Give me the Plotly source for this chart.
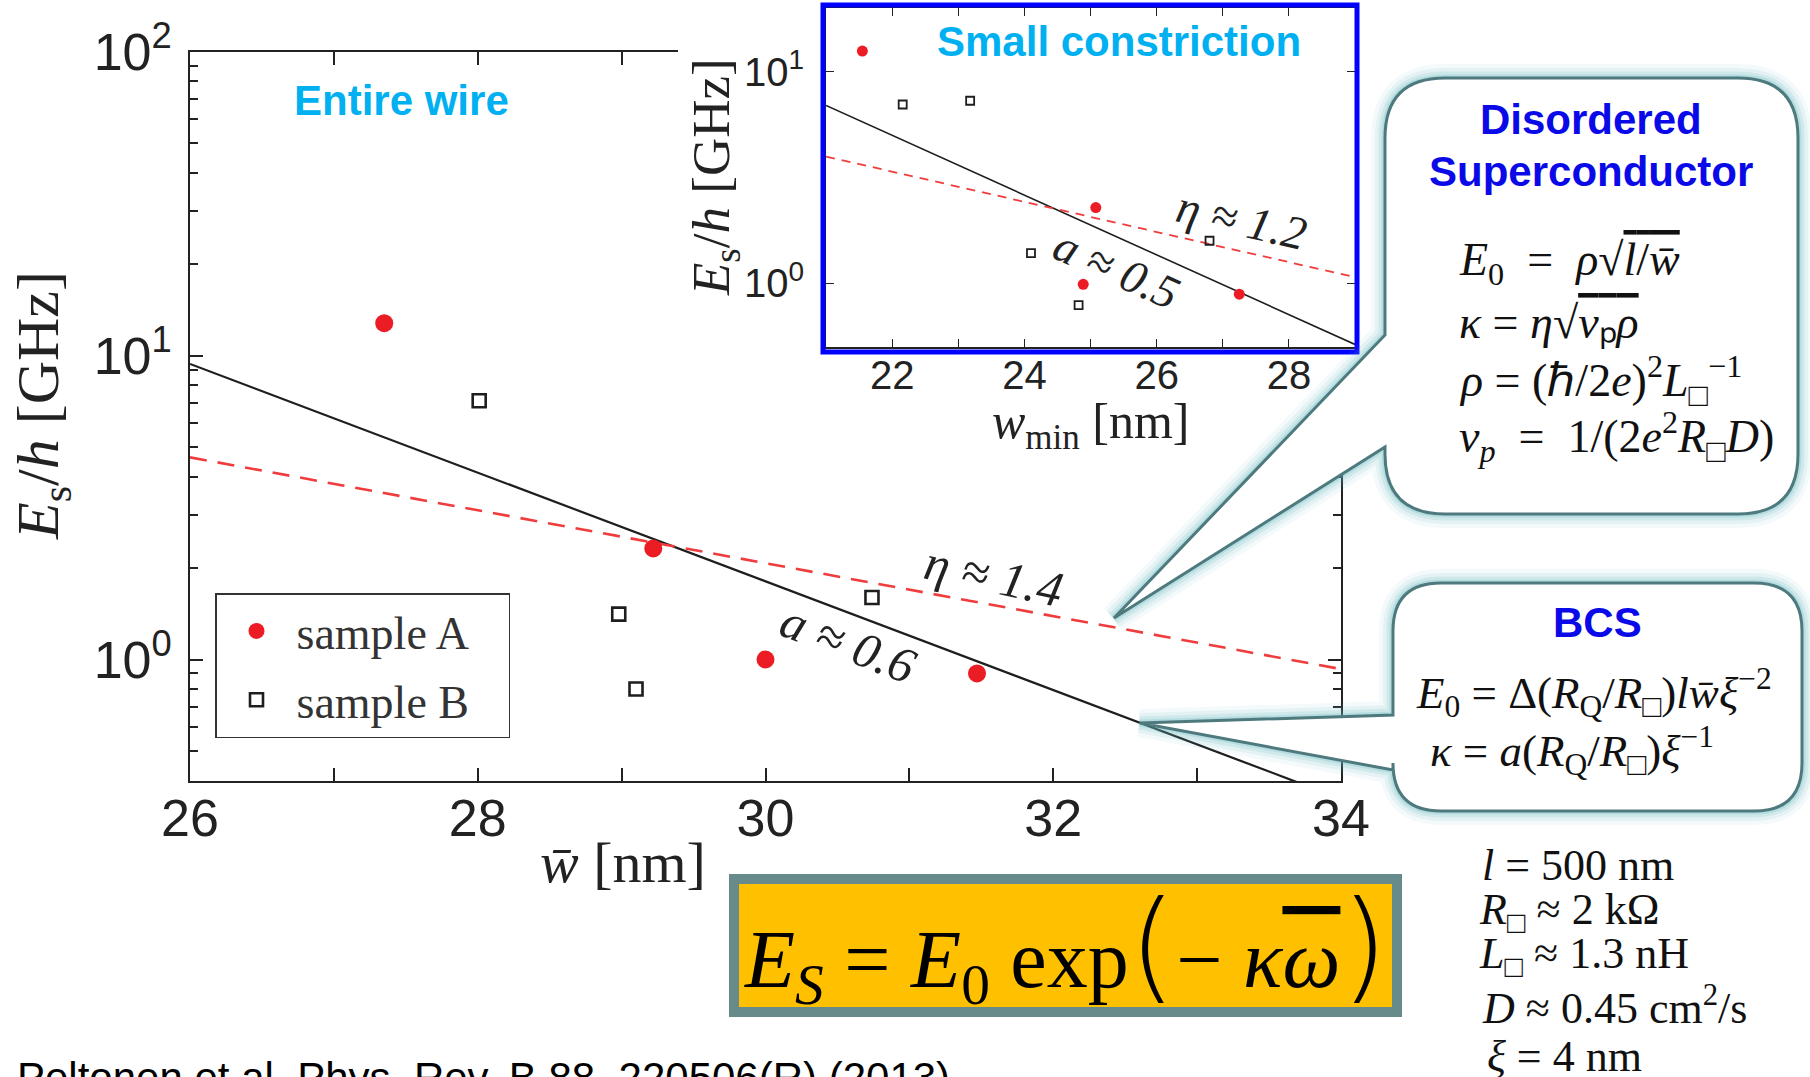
import plotly.graph_objects as go

W, H = 1810, 1077


def px(x):
    return x / W


def py(y):
    return 1 - y / H


# ---- entire wire: mean width vs phase-slip energy ----
wire_w_A = [27.35, 29.22, 30.00, 31.47]
wire_E_A = [12.8, 2.32, 1.00, 0.90]
wire_w_B = [28.01, 28.98, 29.10, 29.56, 30.74]
wire_E_B = [7.11, 1.41, 0.80, 7.36, 1.60]

fit_w_wire = [26, 34]
fit_bcs_wire = [9.40, 0.348]      # a ~ 0.6
fit_dis_wire = [4.63, 0.93]       # eta ~ 1.4

# ---- small constriction: minimum width ----
con_w_A = [21.55, 25.08, 24.89, 27.25]
con_E_A = [12.5, 2.28, 0.99, 0.89]
con_w_B = [22.16, 23.18, 24.10, 24.82, 26.80]
con_E_B = [6.99, 7.28, 1.39, 0.79, 1.59]

fit_w_con = [21, 29]
fit_bcs_con = [6.92, 0.515]       # a ~ 0.5
fit_dis_con = [3.97, 1.07]        # eta ~ 1.2

# ---- tick labels ----
main_x_ticks = [26, 28, 30, 32, 34]
main_x_minor = [27, 29, 31, 33]
main_y_ticks = [1, 10, 100]
main_y_text = ["10<sup>0</sup>", "10<sup>1</sup>", "10<sup>2</sup>"]
main_y_minor = [m * 10.0 ** e for e in (-1, 0, 1) for m in range(2, 10)
                if 0.39 < m * 10.0 ** e < 100]
inset_x_ticks = [22, 24, 26, 28]
inset_x_minor = [23, 25, 27]
inset_y_ticks = [1, 10]
inset_y_text = ["10<sup>0</sup>", "10<sup>1</sup>"]

RED = "#ec1c24"
DARK = "#1e1e1e"
CYAN = "#00b0f0"
BLUE = "#0a0ae8"
SANS = "Liberation Sans"
SERIF = "Liberation Serif"
NB = "\u00a0"

fig = go.Figure()

# main panel
fig.add_trace(go.Scatter(x=fit_w_wire, y=fit_bcs_wire, mode="lines",
                         line=dict(color=DARK, width=2.2), showlegend=False,
                         xaxis="x", yaxis="y"))
fig.add_trace(go.Scatter(x=fit_w_wire, y=fit_dis_wire, mode="lines",
                         line=dict(color="#f03c3c", width=2.6, dash="17px,11px"),
                         showlegend=False, xaxis="x", yaxis="y"))
fig.add_trace(go.Scatter(x=wire_w_A, y=wire_E_A, mode="markers",
                         name="sample A" + NB * 3, legendgroup="A",
                         marker=dict(color=RED, size=18, symbol="circle"),
                         xaxis="x", yaxis="y"))
fig.add_trace(go.Scatter(x=wire_w_B, y=wire_E_B, mode="markers",
                         name="sample B" + NB * 3, legendgroup="B",
                         marker=dict(color=DARK, size=13, symbol="square-open",
                                     line=dict(width=2.6, color=DARK)),
                         xaxis="x", yaxis="y"))

# blank panel that masks the main frame behind the inset
fig.add_trace(go.Scatter(x=[], y=[], showlegend=False, hoverinfo="skip",
                         xaxis="x2", yaxis="y2"))

# inset panel
fig.add_trace(go.Scatter(x=fit_w_con, y=fit_bcs_con, mode="lines",
                         line=dict(color=DARK, width=1.6), showlegend=False,
                         xaxis="x3", yaxis="y3"))
fig.add_trace(go.Scatter(x=fit_w_con, y=fit_dis_con, mode="lines",
                         line=dict(color="#f03c3c", width=1.8, dash="9px,7px"),
                         showlegend=False, xaxis="x3", yaxis="y3"))
fig.add_trace(go.Scatter(x=con_w_A, y=con_E_A, mode="markers", showlegend=False,
                         marker=dict(color=RED, size=11, symbol="circle"),
                         xaxis="x3", yaxis="y3"))
fig.add_trace(go.Scatter(x=con_w_B, y=con_E_B, mode="markers", showlegend=False,
                         marker=dict(color=DARK, size=8, symbol="square-open",
                                     line=dict(width=1.8, color=DARK)),
                         xaxis="x3", yaxis="y3"))

axis_common = dict(showline=True, linecolor="#222", linewidth=1.6, mirror="ticks",
                   ticks="inside", tickcolor="#222", showgrid=False, zeroline=False,
                   automargin=False)

fig.update_layout(
    width=W, height=H,
    margin=dict(l=0, r=0, t=0, b=0),
    paper_bgcolor="white", plot_bgcolor="white",
    xaxis=dict(domain=[px(190), px(1341)], anchor="y", range=[26, 34],
               tickmode="array", tickvals=main_x_ticks, ticklen=13, tickwidth=1.5,
               ticklabelstandoff=-9,
               tickfont=dict(family=SANS, size=52, color="#222"),
               minor=dict(tickmode="array", tickvals=main_x_minor, ticks="inside",
                          ticklen=13, tickcolor="#222", showgrid=False),
               **axis_common),
    yaxis=dict(domain=[py(781), py(52)], anchor="x", type="log", range=[-0.4, 2],
               tickmode="array", tickvals=main_y_ticks, ticktext=main_y_text,
               ticklen=13, tickwidth=1.5, ticklabelstandoff=6,
               tickfont=dict(family=SANS, size=52, color="#222"),
               minor=dict(tickmode="array", tickvals=main_y_minor, ticks="inside",
                          ticklen=8, tickcolor="#222", showgrid=False),
               **axis_common),
    xaxis2=dict(domain=[px(678), px(1372)], anchor="y2", range=[0, 1],
                showline=False, showticklabels=False, ticks="", showgrid=False,
                zeroline=False, automargin=False),
    yaxis2=dict(domain=[py(474), py(0)], anchor="x2", range=[0, 1],
                showline=False, showticklabels=False, ticks="", showgrid=False,
                zeroline=False, automargin=False),
    xaxis3=dict(domain=[px(826), px(1355)], anchor="y3", range=[21, 29],
                tickmode="array", tickvals=inset_x_ticks, ticklen=8, tickwidth=1.2,
                ticklabelstandoff=-8,
                tickfont=dict(family=SANS, size=40, color="#222"),
                minor=dict(tickmode="array", tickvals=inset_x_minor, ticks="inside",
                           ticklen=8, tickcolor="#222", showgrid=False),
                **axis_common),
    yaxis3=dict(domain=[py(347), py(8)], anchor="x3", type="log", range=[-0.3, 1.3],
                tickmode="array", tickvals=inset_y_ticks, ticktext=inset_y_text,
                ticklen=8, tickwidth=1.2, ticklabelstandoff=12,
                tickfont=dict(family=SANS, size=40, color="#222"),
                **axis_common),
    legend=dict(x=px(215), y=py(593), xanchor="left", yanchor="top",
                bgcolor="white", bordercolor="#333", borderwidth=1.5,
                font=dict(family=SERIF, size=46, color="#333"),
                itemwidth=70, tracegroupgap=6, traceorder="grouped"),
    showlegend=True,
)


def rounded_callout(x0, y0, x1, y1, r, ta, tb, tip):
    """Rounded box with a wedge-shaped pointer leaving its left side."""
    pts = [
        ("M", x0 + r, y0), ("L", x1 - r, y0), ("Q", x1, y0, x1, y0 + r),
        ("L", x1, y1 - r), ("Q", x1, y1, x1 - r, y1), ("L", x0 + r, y1),
        ("Q", x0, y1, x0, y1 - r), ("L", x0, tb), ("L", tip[0], tip[1]),
        ("L", x0, ta), ("L", x0, y0 + r), ("Q", x0, y0, x0 + r, y0),
    ]
    out = []
    for p in pts:
        cmd = p[0]
        coords = p[1:]
        seg = []
        for i in range(0, len(coords), 2):
            seg.append(f"{px(coords[i]):.5f},{py(coords[i + 1]):.5f}")
        out.append(cmd + " " + " ".join(seg))
    return " ".join(out) + " Z"


shapes = []
# blue frame around the inset
shapes.append(dict(type="rect", xref="paper", yref="paper",
                   x0=px(823), x1=px(1357), y0=py(352), y1=py(5),
                   line=dict(color="#0000ff", width=5), layer="above"))

callouts = [
    rounded_callout(1385, 78, 1798, 514, 60, 335, 447, (1114, 618)),
    rounded_callout(1393, 583, 1802, 811, 48, 715, 770, (1140, 723)),
]
for path in callouts:
    for w, a in ((28, 0.07), (20, 0.11), (13, 0.16), (7, 0.24)):
        shapes.append(dict(type="path", path=path, xref="paper", yref="paper",
                           line=dict(color=f"rgba(100,185,195,{a})", width=w),
                           fillcolor="white", layer="above"))
    shapes.append(dict(type="path", path=path, xref="paper", yref="paper",
                       line=dict(color="#4e7a7e", width=3),
                       fillcolor="white", layer="above"))

# boxed formula
shapes.append(dict(type="rect", xref="paper", yref="paper",
                   x0=px(734), x1=px(1397), y0=py(1012), y1=py(879),
                   fillcolor="#ffc000", line=dict(color="#678a8b", width=10),
                   layer="above"))
fig.update_layout(shapes=shapes)

ann = []


def note(text, x, y, size, family=SERIF, color="#222", xref="paper", yref="paper",
         xanchor="center", yanchor="middle", angle=0, style=None):
    font = dict(family=family, size=size, color=color)
    if style:
        font["style"] = style
    ann.append(dict(text=text, x=x, y=y, xref=xref, yref=yref, showarrow=False,
                    xanchor=xanchor, yanchor=yanchor, textangle=angle, font=font))


# panel labels
note("<b>Entire wire</b>", 27.47, 1.84, 42, family=SANS, color=CYAN, xref="x", yref="y")
note("<b>Small constriction</b>", 25.43, 1.14, 42, family=SANS, color=CYAN,
     xref="x3", yref="y3")

# fit labels
note("η ≈ 1.4", 31.59, 0.274, 50, xref="x", yref="y", angle=12, style="italic")
note("a ≈ 0.6", 30.57, 0.053, 50, xref="x", yref="y", angle=21, style="italic")
note("η ≈ 1.2", 27.29, 0.30, 47, xref="x3", yref="y3", angle=13, style="italic")
note("a ≈ 0.5", 25.40, 0.069, 47, xref="x3", yref="y3", angle=24, style="italic")

# axis titles
note("<i>E</i><sub>s</sub>/<i>h</i> [GHz]", px(42), py(406), 60, angle=-90)
note("<i>w̄</i> [nm]", px(623), py(862), 58)
note("<i>E</i><sub>s</sub>/<i>h</i> [GHz]", px(715), py(177), 53, angle=-90)
note("<i>w</i><sub>min</sub> [nm]", px(1091), py(425), 50)

# boxed formula text (tall thin brackets from a light face)
PAREN = "font-size:122px;font-family:DejaVu Sans;font-weight:200"
note("<i>E</i><sub><i>S</i></sub> = <i>E</i><sub>0</sub> exp"
     f"<span style='{PAREN}'>(</span>− <i>κ</i>"
     "<span style='text-decoration:overline'><i>ω</i></span>"
     f"<span style='{PAREN}'>)</span>",
     px(1066), py(945), 82, color="#000")

# callout headings and formulas
note("<b>Disordered</b>", px(1591), py(120), 42, family=SANS, color=BLUE)
note("<b>Superconductor</b>", px(1591), py(172), 42, family=SANS, color=BLUE)
EQ = NB * 2 + "=" + NB * 2
ROOT = "text-decoration:overline"
ds_lines = [
    ("<i>E</i><sub>0</sub>" + EQ + "<i>ρ</i>√"
     f"<span style='{ROOT}'><i>l</i>/<i>w̄</i></span>", 263),
    (f"<i>κ</i> = <i>η</i>√<span style='{ROOT}'><i>ν</i>ₚ<i>ρ</i></span>", 323),
    ("<i>ρ</i> = (ℏ/2<i>e</i>)<sup>2</sup><i>L</i><sub>□</sub><sup>−1</sup>", 380),
    ("<i>ν</i><sub><i>p</i></sub>" + EQ + "1/(2<i>e</i><sup>2</sup><i>R</i><sub>□</sub><i>D</i>)", 437),
]
for t, yy in ds_lines:
    note(t, px(1457), py(yy), 46, xanchor="left", color="#111")

note("<b>BCS</b>", px(1597), py(622), 42, family=SANS, color=BLUE)
note("<i>E</i><sub>0</sub> = Δ(<i>R</i><sub>Q</sub>/<i>R</i><sub>□</sub>)"
     "<i>lw̄ξ</i><sup>−2</sup>", px(1414), py(692), 45, xanchor="left", color="#111")
note("<i>κ</i> = <i>a</i>(<i>R</i><sub>Q</sub>/<i>R</i><sub>□</sub>)<i>ξ</i><sup>−1</sup>",
     px(1428), py(750), 45, xanchor="left", color="#111")

# material parameters
params = [
    ("<i>l</i> = 500 nm", 1480, 865),
    ("<i>R</i><sub>□</sub> ≈ 2 kΩ", 1477, 912),
    ("<i>L</i><sub>□</sub> ≈ 1.3 nH", 1477, 956),
    ("<i>D</i> ≈ 0.45 cm<sup>2</sup>/s", 1480, 1005),
    ("<i>ξ</i> = 4 nm", 1485, 1056),
]
for t, xx, yy in params:
    note(t, px(xx), py(yy), 44, xanchor="left", color="#111")

# reference
note("Peltonen et al. Phys. Rev. B 88, 220506(R) (2013)", px(15), py(1052), 42,
     family=SANS, color="#000", xanchor="left", yanchor="top")

fig.update_layout(annotations=ann)

fig.write_html("out.html")
